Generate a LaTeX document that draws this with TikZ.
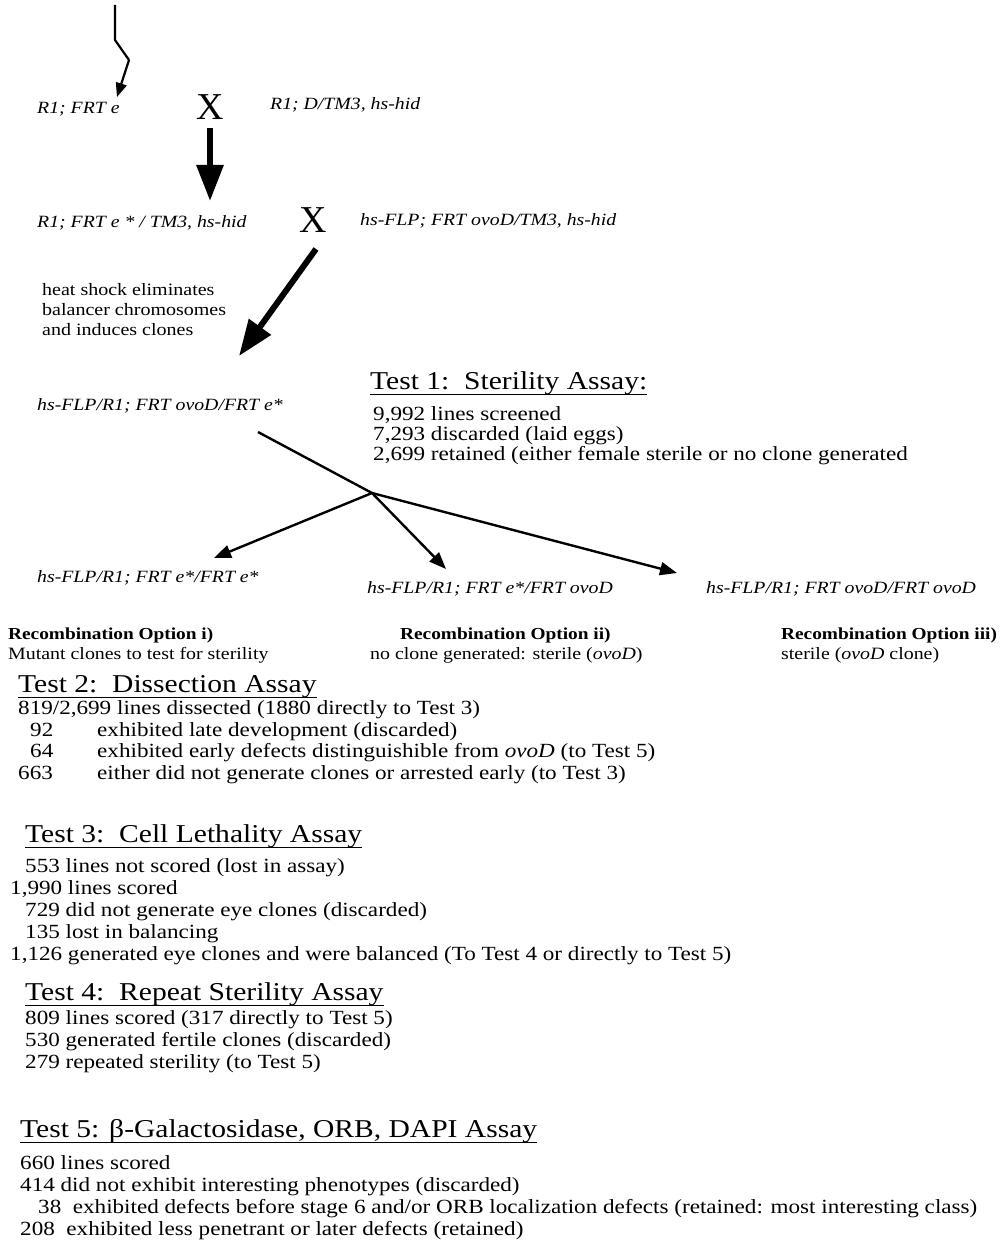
\documentclass[tikz,border=0pt]{standalone}
\usepackage{fontspec}
\setmainfont[FakeStretch=1.15]{Liberation Serif}
\newfontfamily\crossfont{Liberation Serif}
\usetikzlibrary{arrows.meta}
\tikzset{
  txt/.style={anchor=base west, inner sep=0pt, font=\fontsize{20.1}{22}\selectfont},
  geno/.style={anchor=base west, inner sep=0pt, font=\fontsize{17.2}{20}\selectfont\itshape},
  small/.style={anchor=base west, inner sep=0pt, font=\fontsize{17.4}{19}\selectfont},
  opt/.style={anchor=base west, inner sep=0pt, font=\fontsize{16.8}{19}\selectfont\bfseries},
  optt/.style={anchor=base west, inner sep=0pt, font=\fontsize{17.3}{19}\selectfont},
  head/.style={anchor=base west, inner sep=0pt, font=\fontsize{25.7}{27}\selectfont},
  cross/.style={anchor=base west, inner sep=0pt, font=\crossfont\fontsize{38}{40}\selectfont},
  thin/.style={line width=2.4pt, -{Triangle[length=17pt,width=13pt]}},
  thick/.style={line width=6pt, -{Triangle[length=36pt,width=26pt]}},
  uline/.style={line width=1pt}
}
\begin{document}
\begin{tikzpicture}[x=1pt,y=-1pt]
\useasboundingbox[fill=white] (0,0) rectangle (1002,1252);

% top cross
\coordinate (z0) at (115,5);
\coordinate (z1) at (115,40);
\coordinate (z2) at (129,60);
\coordinate (z3) at (117,97);
\draw[line width=2.2pt, line join=miter] (z0) -- (z1) -- (z2);
\draw[line width=2.2pt, -{Triangle[length=14pt,width=11pt]}] (z2) -- (z3);

\node[geno] (g1) at (37,114) {R1; FRT e};
\node[cross] (x1) at (196,120) {X};
\node[geno] (g2) at (270,110) {R1; D/TM3, hs-hid};

\coordinate (a1s) at (210,128);
\coordinate (a1e) at (210,201);
\draw[thick] (a1s) -- (a1e);

\node[geno] (g3) at (37,227) {R1; FRT e * / TM3, hs-hid};
\node[cross] (x2) at (299,233) {X};
\node[geno] (g4) at (360,225) {hs-FLP; FRT ovoD/TM3, hs-hid};

\coordinate (a2s) at (316,249);
\coordinate (a2e) at (239,356);
\draw[thick] (a2s) -- (a2e);

\node[small] (hs1) at (42,295) {heat shock eliminates};
\node[small] (hs2) at (42,315) {balancer chromosomes};
\node[small] (hs3) at (42,335) {and induces clones};

\node[head] (t1) at (370,389) {Test 1:\ \ Sterility Assay:};
\draw[uline] ([yshift=-5pt]t1.base west) -- ([yshift=-5pt]t1.base east);
\node[geno] (g5) at (37,410) {hs-FLP/R1; FRT ovoD/FRT e*};
\node[txt] (t1a) at (373,420) {9,992 lines screened};
\node[txt] (t1b) at (373,440) {7,293 discarded (laid eggs)};
\node[txt] (t1c) at (373,460) {2,699 retained (either female sterile or no clone generated};

\coordinate (ls) at (258,432);
\coordinate (j) at (372,493);
\draw[line width=2.4pt] (ls) -- (j);
\coordinate (e1) at (214,558);
\coordinate (e2) at (446,569);
\coordinate (e3) at (677,573);
\draw[thin] (j) -- (e1);
\draw[thin] (j) -- (e2);
\draw[thin] (j) -- (e3);

\node[geno] (g6) at (37,582) {hs-FLP/R1; FRT e*/FRT e*};
\node[geno] (g7) at (367,593) {hs-FLP/R1; FRT e*/FRT ovoD};
\node[geno] (g8) at (706,593) {hs-FLP/R1; FRT ovoD/FRT ovoD};

\node[opt] (o1) at (8,639) {Recombination Option i)};
\node[optt] (o1b) at (8,659) {Mutant clones to test for sterility};
\node[opt] (o2) at (400,639) {Recombination Option ii)};
\node[optt] (o2b) at (370,659) {no clone generated: sterile (\textit{ovoD})};
\node[opt] (o3) at (781,639) {Recombination Option iii)};
\node[optt] (o3b) at (781,659) {sterile (\textit{ovoD} clone)};

% Test 2
\node[head] (t2) at (18,692) {Test 2:\ \ Dissection Assay};
\draw[uline] ([yshift=-5pt]t2.base west) -- ([yshift=-5pt]t2.base east);
\node[txt] (t2a) at (18,714) {819/2,699 lines dissected (1880 directly to Test 3)};
\node[txt] (t2bn) at (30,736) {92};
\node[txt] (t2b) at (97,736) {exhibited late development (discarded)};
\node[txt] (t2cn) at (30,757) {64};
\node[txt] (t2c) at (97,757) {exhibited early defects distinguishible from \textit{ovoD} (to Test 5)};
\node[txt] (t2dn) at (18,779) {663};
\node[txt] (t2d) at (97,779) {either did not generate clones or arrested early (to Test 3)};

% Test 3
\node[head] (t3) at (25,842) {Test 3:\ \ Cell Lethality Assay};
\draw[uline] ([yshift=-5pt]t3.base west) -- ([yshift=-5pt]t3.base east);
\node[txt] (t3a) at (25,872) {553 lines not scored (lost in assay)};
\node[txt] (t3b) at (10,894) {1,990 lines scored};
\node[txt] (t3c) at (25,916) {729 did not generate eye clones (discarded)};
\node[txt] (t3d) at (25,938) {135 lost in balancing};
\node[txt] (t3e) at (10,960) {1,126 generated eye clones and were balanced (To Test 4 or directly to Test 5)};

% Test 4
\node[head] (t4) at (25,1000) {Test 4:\ \ Repeat Sterility Assay};
\draw[uline] ([yshift=-5pt]t4.base west) -- ([yshift=-5pt]t4.base east);
\node[txt] (t4a) at (25,1024) {809 lines scored (317 directly to Test 5)};
\node[txt] (t4b) at (25,1046) {530 generated fertile clones (discarded)};
\node[txt] (t4c) at (25,1068) {279 repeated sterility (to Test 5)};

% Test 5
\node[head] (t5) at (20,1137) {Test 5: β-Galactosidase, ORB, DAPI Assay};
\draw[uline] ([yshift=-5pt]t5.base west) -- ([yshift=-5pt]t5.base east);
\node[txt] (t5a) at (20,1169) {660 lines scored};
\node[txt] (t5b) at (20,1191) {414 did not exhibit interesting phenotypes (discarded)};
\node[txt] (t5c) at (38,1213) {38\ \ exhibited defects before stage 6 and/or ORB localization defects (retained: most interesting class)};
\node[txt] (t5d) at (20,1235) {208\ \ exhibited less penetrant or later defects (retained)};
\end{tikzpicture}
\end{document}
